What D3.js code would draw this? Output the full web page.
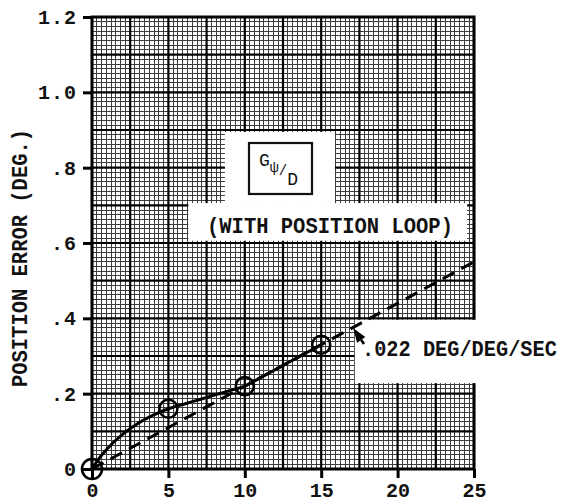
<!DOCTYPE html>
<html>
<head>
<meta charset="utf-8">
<script src="https://cdn.jsdelivr.net/npm/d3@7"></script>
<style>
  html, body { margin: 0; padding: 0; background: #fff; }
  svg { display: block; }
  .tw { font-family: "Liberation Mono", "Courier New", monospace; font-weight: bold; fill: #111; }
</style>
</head>
<body>
<svg id="chart" width="568" height="504"></svg>
<script>
// Measured position error versus rate input, with the linear fit
const xTicks = [0, 5, 10, 15, 20, 25];
const xTickLabels = ["0", "5", "10", "15", "20", "25"];
const yTicks = [0, 0.2, 0.4, 0.6, 0.8, 1.0, 1.2];
const yTickLabels = ["0", ".2", ".4", ".6", ".8", "1.0", "1.2"];

// smooth response curve through the test points
const curveX = [0, 0.5, 1, 2, 3, 4, 5, 6, 7, 8, 9, 10, 11, 12, 13, 14, 15];
const curveY = [0, 0.03, 0.054, 0.092, 0.121, 0.143, 0.16, 0.172, 0.184, 0.196, 0.208, 0.22, 0.242, 0.264, 0.286, 0.308, 0.33];

// test points (open circles)
const pointX = [0, 5, 10, 15];
const pointY = [0, 0.16, 0.22, 0.33];

// linear gradient of the dashed line, deg per deg/sec
const slope = 0.022;
const slopeLabel = ".022 DEG/DEG/SEC";

const yTitle = "POSITION ERROR (DEG.)";
const boxNote = "(WITH POSITION LOOP)";

const svg = d3.select("#chart");
const x = d3.scaleLinear().domain([0, 25]).range([92, 474]);
const y = d3.scaleLinear().domain([0, 1.2]).range([469, 17]);

// graph-paper grid: 8 fine divisions per major division
const majorDx = 2.5, majorDy = 0.1, sub = 8;
const fineX = d3.range(0, 25 + 1e-9, majorDx / sub);
const fineY = d3.range(0, 1.2 + 1e-9, majorDy / sub);
const majX = d3.range(0, 25 + 1e-9, majorDx);
const majY = d3.range(0, 1.2 + 1e-9, majorDy);

const grid = svg.append("g");
const fine = grid.append("g").attr("shape-rendering", "crispEdges");
fine.selectAll(".fx").data(fineX).join("line")
  .attr("x1", d => x(d)).attr("x2", d => x(d))
  .attr("y1", y(0)).attr("y2", y(1.2))
  .attr("stroke", "#3c3c3c").attr("stroke-width", 1);
fine.selectAll(".fy").data(fineY).join("line")
  .attr("y1", d => y(d)).attr("y2", d => y(d))
  .attr("x1", x(0)).attr("x2", x(25))
  .attr("stroke", "#3c3c3c").attr("stroke-width", 1);
grid.selectAll(".mx").data(majX).join("line")
  .attr("x1", d => x(d)).attr("x2", d => x(d))
  .attr("y1", y(0)).attr("y2", y(1.2))
  .attr("stroke", "#000").attr("stroke-width", 2.2);
grid.selectAll(".my").data(majY).join("line")
  .attr("y1", d => y(d)).attr("y2", d => y(d))
  .attr("x1", x(0)).attr("x2", x(25))
  .attr("stroke", "#000").attr("stroke-width", 2.2);

// frame
svg.append("rect")
  .attr("x", x(0)).attr("y", y(1.2))
  .attr("width", x(25) - x(0)).attr("height", y(0) - y(1.2))
  .attr("fill", "none").attr("stroke", "#000").attr("stroke-width", 3);

// axes
const xAxis = svg.append("g").attr("transform", `translate(0,${y(0)})`)
  .call(d3.axisBottom(x).tickValues(xTicks).tickFormat((d, i) => xTickLabels[i]).tickSize(9).tickPadding(5));
const yAxis = svg.append("g").attr("transform", `translate(${x(0)},0)`)
  .call(d3.axisLeft(y).tickValues(yTicks).tickFormat((d, i) => yTickLabels[i]).tickSize(9).tickPadding(6));
[xAxis, yAxis].forEach(a => {
  a.select(".domain").remove();
  a.selectAll(".tick line").attr("stroke", "#000").attr("stroke-width", 3);
  a.selectAll(".tick text")
    .attr("class", "tw")
    .style("font-size", "20px")
    .attr("fill", "#111");
});
yAxis.selectAll(".tick text").attr("letter-spacing", "1px");

// white label areas over the paper
const masks = [
  [8.7, 15.9, 0.895, 0.705],
  [6.3, 24.55, 0.706, 0.606],
  [17.2, 31.0, 0.396, 0.228]
];
svg.selectAll(".mask").data(masks).join("rect")
  .attr("x", d => x(d[0])).attr("y", d => y(d[2]))
  .attr("width", d => x(d[1]) - x(d[0]))
  .attr("height", d => y(d[3]) - y(d[2]))
  .attr("fill", "#fff");

// transfer-function box
svg.append("rect")
  .attr("x", 249).attr("y", 143).attr("width", 63).attr("height", 51)
  .attr("fill", "none").attr("stroke", "#111").attr("stroke-width", 2.2);
const tf = svg.append("text").attr("class", "tw")
  .attr("x", 259).attr("y", 166)
  .style("font-size", "18px").style("font-weight", "normal");
tf.append("tspan").text("G");
tf.append("tspan").attr("dy", 6).style("font-size", "15px").text("ψ");
tf.append("tspan").attr("dy", 3).style("font-size", "14px").text("/");
tf.append("tspan").attr("dy", 10).text("D");

svg.append("text").attr("class", "tw")
  .attr("transform", "translate(207,233) scale(1,1.08)")
  .style("font-size", "20.5px").text(boxNote);

// y-axis title
svg.append("text").attr("class", "tw")
  .attr("transform", "translate(27,258) rotate(-90) scale(1,1.1)")
  .attr("text-anchor", "middle")
  .style("font-size", "20.5px").text(yTitle);

// slope note
svg.append("text").attr("class", "tw")
  .attr("transform", "translate(362,356) scale(1,1.12)")
  .style("font-size", "20.3px").text(slopeLabel);

// linear fit (dashed)
const fitX = [0, 25];
svg.append("path")
  .datum(fitX)
  .attr("d", d3.line().x(d => x(d)).y(d => y(slope * d)))
  .attr("fill", "none").attr("stroke", "#000").attr("stroke-width", 3)
  .attr("stroke-dasharray", "13,8");

// measured curve
const curvePts = curveX.map((d, i) => [d, curveY[i]]);
svg.append("path")
  .datum(curvePts)
  .attr("d", d3.line().x(d => x(d[0])).y(d => y(d[1])).curve(d3.curveMonotoneX))
  .attr("fill", "none").attr("stroke", "#000").attr("stroke-width", 3);

// test points
svg.selectAll(".pt").data(pointX.map((d, i) => [d, pointY[i]])).join("circle")
  .attr("cx", d => x(d[0])).attr("cy", d => y(d[1]))
  .attr("r", (d, i) => i === 0 ? 10 : 9)
  .attr("fill", "none").attr("stroke", "#000").attr("stroke-width", 2.6);

// arrow from slope note to the dashed line
const tipX = 17.1;
const tx = x(tipX), ty = y(slope * tipX) + 1;
const sx = 364, sy = 344;
const ang = Math.atan2(ty - sy, tx - sx);
const L = 14, W = 5;
const bx = tx - L * Math.cos(ang), by = ty - L * Math.sin(ang);
svg.append("line").attr("x1", sx).attr("y1", sy).attr("x2", bx).attr("y2", by)
  .attr("stroke", "#000").attr("stroke-width", 2.6);
svg.append("path")
  .attr("d", `M${tx},${ty} L${bx + W * Math.sin(ang)},${by - W * Math.cos(ang)} L${bx - W * Math.sin(ang)},${by + W * Math.cos(ang)} Z`)
  .attr("fill", "#000");
</script>
</body>
</html>
